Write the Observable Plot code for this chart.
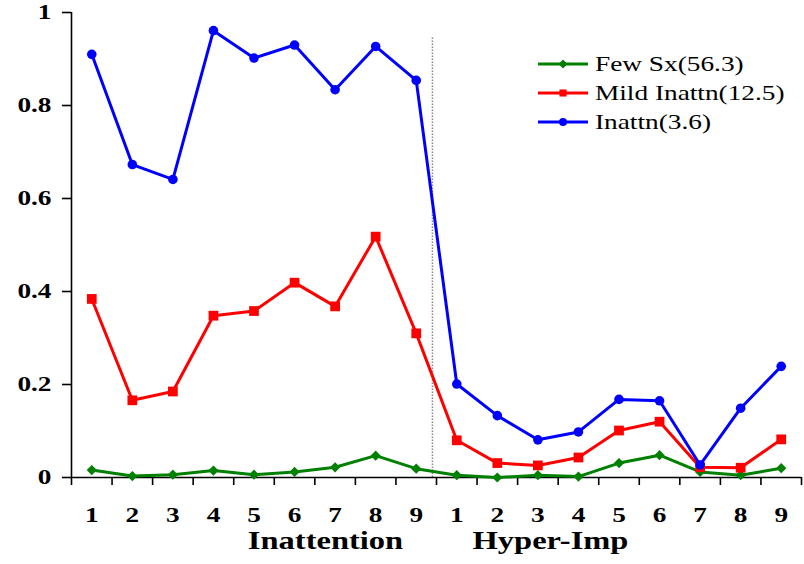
<!DOCTYPE html>
<html>
<head>
<meta charset="utf-8">
<script src="https://cdn.jsdelivr.net/npm/d3@7"></script>
<script src="https://cdn.jsdelivr.net/npm/@observablehq/plot@0.6"></script>
<style>
  html, body { margin: 0; padding: 0; background: #fff; }
  #chart { position: relative; width: 804px; height: 564px; }
</style>
</head>
<body>
<div id="chart"></div>
<script>
// ---- data ----
const itemLabels = ["1","2","3","4","5","6","7","8","9","1","2","3","4","5","6","7","8","9"];
const groupLabels = ["Inattention", "Hyper-Imp"];
const seriesNames = ["Few Sx(56.3)", "Mild Inattn(12.5)", "Inattn(3.6)"];
const fewSx      = [0.016,0.003,0.006,0.015,0.006,0.012,0.022,0.047,0.019,0.005,0.000,0.005,0.002,0.031,0.048,0.012,0.005,0.020];
const mildInattn = [0.384,0.166,0.185,0.348,0.358,0.419,0.368,0.518,0.310,0.080,0.031,0.026,0.043,0.101,0.120,0.022,0.021,0.082];
const inattn     = [0.910,0.673,0.641,0.961,0.902,0.930,0.834,0.927,0.854,0.201,0.133,0.081,0.098,0.168,0.165,0.027,0.149,0.239];
const yTicks = [0, 0.2, 0.4, 0.6, 0.8, 1];
const separator = [9.4];      // dotted divider between the two groups (x units)
const separatorTop = 0.946;   // top of divider (y units)

// ---- styles ----
const colors  = ["#008000", "#ff0000", "#0000ff"];
const symbols = ["diamond2", "square", "circle"];
const radii   = [4.6, 5.5, 4.8];
const seriesValues = [fewSx, mildInattn, inattn];
const STRETCH = 1.3;

const positions = itemLabels.map((_, i) => i + 1);
const boundaries = [0.5, ...positions.map(p => p + 0.5)];

const marks = [
  Plot.ruleX(separator, {y1: 0, y2: separatorTop, stroke: "#888", strokeWidth: 1.5, strokeDasharray: "1.5,1.5"}),
  Plot.ruleX([0.5], {stroke: "#000", strokeWidth: 1.6}),
  Plot.ruleY([0], {stroke: "#000", strokeWidth: 1.6}),
  Plot.axisY(yTicks, {tickSize: 9, tickPadding: 11, tickFormat: d => String(d), fontSize: 21, fontWeight: "bold", stroke: "#000", strokeWidth: 1.6, label: null, color: "#000"}),
  Plot.axisX(boundaries, {tickSize: 8, tickFormat: () => "", stroke: "#000", strokeWidth: 1.6, label: null}),
  Plot.axisX(positions, {tickSize: 0, tickPadding: 30, tickFormat: p => itemLabels[p - 1], fontSize: 21, fontWeight: "bold", label: null}),
  Plot.text([groupLabels[0]], {frameAnchor: "bottom", dx: -111, dy: 71, fontSize: 25, fontWeight: "bold", fill: "#000"}),
  Plot.text([groupLabels[1]], {frameAnchor: "bottom", dx: 114, dy: 71, fontSize: 25, fontWeight: "bold", fill: "#000"})
];

seriesValues.forEach((vals, s) => {
  marks.push(Plot.line(vals, {x: (d, i) => i + 1, y: d => d, stroke: colors[s], strokeWidth: 3, strokeLinejoin: "round"}));
  marks.push(Plot.dot(vals, {x: (d, i) => i + 1, y: d => d, symbol: symbols[s], r: radii[s], fill: colors[s], stroke: "none"}));
});

const svg = Plot.plot({
  width: 804,
  height: 564,
  marginLeft: 71,
  marginRight: 3,
  marginTop: 12,
  marginBottom: 87,
  x: {type: "linear", domain: [0.5, 18.5]},
  y: {domain: [0, 1]},
  style: {fontFamily: "'Liberation Serif', 'Times New Roman', serif", color: "#000", background: "#fff"},
  marks
});

// ---- legend ----
const lg = d3.select(svg).append("g").attr("class", "legend").attr("text-anchor", "start");
seriesNames.forEach((name, i) => {
  const y = 64 + i * 29;
  const g = lg.append("g");
  g.append("line").attr("x1", 538).attr("x2", 588).attr("y1", y).attr("y2", y)
    .attr("stroke", colors[i]).attr("stroke-width", 3);
  const sym = {diamond2: d3.symbolDiamond2, square: d3.symbolSquare, circle: d3.symbolCircle}[symbols[i]];
  g.append("path").attr("d", d3.symbol(sym, Math.PI * 4 * 4)()).attr("transform", `translate(563,${y})`)
    .attr("fill", colors[i]);
  g.append("text").attr("x", 595).attr("y", y).attr("dy", "0.33em")
    .attr("text-anchor", "start")
    .attr("font-size", 21).attr("fill", "#000").text(name);
});

document.getElementById("chart").append(svg);

// horizontal stretch of text, matching the reference's wide glyphs
svg.querySelectorAll("text").forEach(t => {
  if (!t.textContent) return;
  const L = t.getComputedTextLength();
  if (L > 0) {
    t.setAttribute("textLength", L * STRETCH);
    t.setAttribute("lengthAdjust", "spacingAndGlyphs");
  }
});
</script>
</body>
</html>
